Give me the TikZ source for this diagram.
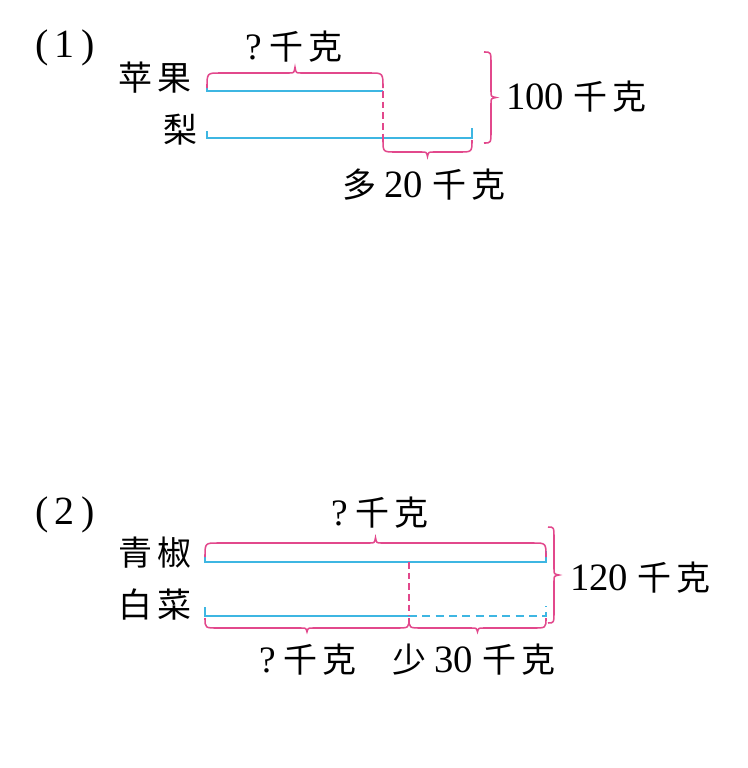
\documentclass[tikz,border=0pt]{standalone}
\usepackage{fontspec}
\setmainfont{Liberation Serif}
\newfontfamily\cjk{Noto Sans CJK SC}
\definecolor{pk}{RGB}{226,72,140}
\definecolor{bl}{RGB}{62,182,226}
\newcommand\HBr[4]{%
 \pgfmathsetmacro\bxm{(#1+#2)/2}%
 \pgfmathsetmacro\byf{#3+#4}%
 \pgfmathsetmacro\byt{#3+#4*1.38}%
 \draw[brc] (#1,#3) .. controls (#1,\byf) .. ({#1+13},\byf) -- ({\bxm-6},\byf) .. controls ({\bxm-1},\byf) .. (\bxm,\byt) .. controls ({\bxm+1},\byf) .. ({\bxm+6},\byf) -- ({#2-13},\byf) .. controls (#2,\byf) .. (#2,#3);}
\newcommand\VBr[4]{%
 \pgfmathsetmacro\bym{(#2+#3)/2}%
 \pgfmathsetmacro\bxf{#1+#4}%
 \pgfmathsetmacro\bxt{#1+#4+5}%
 \draw[brc] (#1,#2) .. controls (\bxf,#2) .. (\bxf,{#2+12}) -- (\bxf,{\bym-6}) .. controls (\bxf,{\bym-1}) .. (\bxt,\bym) .. controls (\bxf,{\bym+1}) .. (\bxf,{\bym+6}) -- (\bxf,{#3-12}) .. controls (\bxf,#3) .. (#1,#3);}
\newcommand\cs{\hspace{4pt}}
\newcommand\cjt[1]{{\cjk\fontsize{25.5}{25.5}\selectfont #1}}
\begin{document}
\begin{tikzpicture}[x=0.75pt,y=-0.75pt,
  brc/.style={pk,line width=1.15pt},
  bar/.style={bl,line width=1.15pt},
  pkdash/.style={pk,line width=1.15pt,dash pattern=on 5pt off 3pt},
  bldash/.style={bl,line width=1.15pt,dash pattern=on 6pt off 4pt},
  lab/.style={inner sep=0pt,font=\cjk\fontsize{25.5}{25.5}\selectfont}]
\useasboundingbox (0,0) rectangle (747,768);
% ---------- part 1 ----------
\node[inner sep=0pt,font=\fontsize{30}{30}\selectfont] (p1) at (65,48) {(\,1\,)};
\node[lab] (apple) at (155,78) {苹\cs 果};
\node[lab] (pear) at (180,130) {梨};
\node[inner sep=0pt] (q1) at (294,47) {{\fontsize{28}{28}\selectfont ?}\hspace{6pt}\cjt{千\cs 克}};
\node[inner sep=0pt,anchor=west] (t100) at (506,97) {{\fontsize{29}{29}\selectfont 100}\hspace{7pt}\cjt{千\cs 克}};
\node[inner sep=0pt] (m20) at (424,185) {\cjt{多}\hspace{6pt}{\fontsize{29}{29}\selectfont 20}\hspace{7pt}\cjt{千\cs 克}};
\coordinate (a0) at (207,85);
\coordinate (a1) at (207,91);
\coordinate (a2) at (383,91);
\coordinate (b0) at (207,131);
\coordinate (b1) at (207,138);
\coordinate (b2) at (383,138);
\coordinate (b3) at (472,138);
\coordinate (b4) at (472,128);
\draw[bar] (a0) -- (a1) -- (a2);
\draw[bar] (b0) -- (b1) -- (b3) -- (b4);
\draw[pkdash] (a2) -- ([yshift=-2pt]b2);
\HBr{207}{383}{88}{-15}
\HBr{383}{472}{140}{12}
\VBr{484}{52}{143}{7}
% ---------- part 2 ----------
\node[inner sep=0pt,font=\fontsize{30}{30}\selectfont] (p2) at (65,515) {(\,2\,)};
\node[lab] (qj) at (155,553) {青\cs 椒};
\node[lab] (bc) at (155,605) {白\cs 菜};
\node[inner sep=0pt] (q2) at (380,513) {{\fontsize{28}{28}\selectfont ?}\hspace{6pt}\cjt{千\cs 克}};
\node[inner sep=0pt,anchor=west] (t120) at (570,578) {{\fontsize{29}{29}\selectfont 120}\hspace{7pt}\cjt{千\cs 克}};
\node[inner sep=0pt] (q3) at (308,660) {{\fontsize{28}{28}\selectfont ?}\hspace{6pt}\cjt{千\cs 克}};
\node[inner sep=0pt] (l30) at (474,660) {\cjt{少}\hspace{6pt}{\fontsize{29}{29}\selectfont 30}\hspace{7pt}\cjt{千\cs 克}};
\coordinate (c0) at (205,555);
\coordinate (c1) at (205,562);
\coordinate (c2) at (409,562);
\coordinate (c3) at (546,562);
\coordinate (c4) at (546,551);
\coordinate (d0) at (205,607);
\coordinate (d1) at (205,616);
\coordinate (d2) at (409,616);
\coordinate (d3) at (546,616);
\coordinate (d4) at (546,606);
\draw[bar] (c0) -- (c1) -- (c3) -- (c4);
\draw[bar] (d0) -- (d1) -- (d2);
\draw[bldash] (d2) -- (d3) -- (d4);
\draw[pkdash] (c2) -- (d2);
\HBr{205}{546}{557}{-14}
\HBr{205}{409}{618}{10}
\HBr{409}{546}{618}{10}
\VBr{548}{527}{623}{6}
\end{tikzpicture}
\end{document}
